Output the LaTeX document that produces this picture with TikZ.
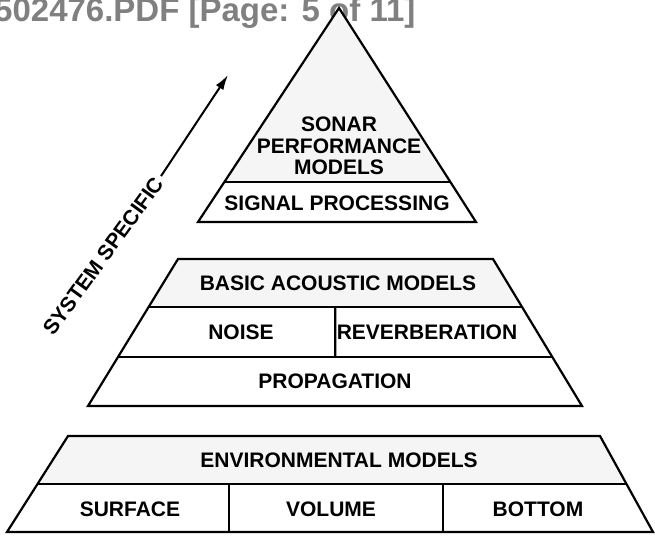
\documentclass[tikz,border=0pt]{standalone}
\usepackage{fontspec}
\setmainfont{Liberation Sans}
\usetikzlibrary{arrows, arrows.meta}
\usetikzlibrary{positioning, calc}

\tikzset{
  layer/.style={line width=2.2pt, line join=miter},
  stipple/.style={fill=black!4},
  lbl/.style={font=\bfseries\fontsize{21}{21.5}\selectfont, inner sep=1pt, align=center},
}

\begin{document}
\begin{tikzpicture}[>={Latex[length=15pt, width=9pt]}, x=1pt, y=-1pt]
      \useasboundingbox (0,0) rectangle (655,536);

      \node[anchor=base east, text=black!50, font=\bfseries\fontsize{33}{33}\selectfont] (header) at (419,21) {502476.PDF [Page: 5 of 11]};

      % sonar performance models
      \coordinate (apex) at (339,8);
      \coordinate (sbl) at (198,222);
      \coordinate (sbr) at (476,222);
      \coordinate (sml) at ($(apex)!0.813!(sbl)$);
      \coordinate (smr) at ($(apex)!0.813!(sbr)$);
      \fill[stipple] (apex) -- (smr) -- (sml) -- cycle;
      \draw[layer] (apex) -- (sbr) -- (sbl) -- cycle;
      \draw[layer] (sml) -- (smr);
      \node[lbl] (sonar) at (339,146) {SONAR\\PERFORMANCE\\MODELS};
      \node[lbl] (signal) at (337,203) {SIGNAL PROCESSING};

      % basic acoustic models
      \coordinate (atl) at (178,259);
      \coordinate (atr) at (493,259);
      \coordinate (abl) at (88,406);
      \coordinate (abr) at (582,406);
      \coordinate (aml) at ($(atl)!0.327!(abl)$);
      \coordinate (amr) at ($(atr)!0.327!(abr)$);
      \coordinate (anl) at ($(atl)!0.667!(abl)$);
      \coordinate (anr) at ($(atr)!0.667!(abr)$);
      \fill[stipple] (atl) -- (atr) -- (amr) -- (aml) -- cycle;
      \draw[layer] (atl) -- (atr) -- (abr) -- (abl) -- cycle;
      \draw[layer] (aml) -- (amr);
      \draw[layer] (anl) -- (anr);
      \draw[layer] ($(aml)!0.5!(amr)$) -- ($(anl)!0.5!(anr)$);
      \node[lbl] (basic) at (338,283) {BASIC ACOUSTIC MODELS};
      \node[lbl] (noise) at (241,332) {NOISE};
      \node[lbl] (reverb) at (427,332) {REVERBERATION};
      \node[lbl] (prop) at (335,381) {PROPAGATION};

      % environmental models
      \coordinate (etl) at (68,436);
      \coordinate (etr) at (600,436);
      \coordinate (ebl) at (7,532);
      \coordinate (ebr) at (653,532);
      \coordinate (eml) at ($(etl)!0.5!(ebl)$);
      \coordinate (emr) at ($(etr)!0.5!(ebr)$);
      \fill[stipple] (etl) -- (etr) -- (emr) -- (eml) -- cycle;
      \draw[layer] (etl) -- (etr) -- (ebr) -- (ebl) -- cycle;
      \draw[layer] (eml) -- (emr);
      \draw[layer] (229,484) -- (229,532);
      \draw[layer] (443,484) -- (443,532);
      \node[lbl] (env) at (339,460) {ENVIRONMENTAL MODELS};
      \node[lbl] (surface) at (130,509) {SURFACE};
      \node[lbl] (volume) at (331,509) {VOLUME};
      \node[lbl] (bottom) at (538,509) {BOTTOM};

      % system specific arrow
      \node[lbl, rotate=54, inner sep=4pt] (sysspec) at (103,256) {SYSTEM SPECIFIC};
      \coordinate (tip) at (228,75);
      \draw[->, line width=2pt] (sysspec.east) -- (tip);
\end{tikzpicture}
\end{document}
